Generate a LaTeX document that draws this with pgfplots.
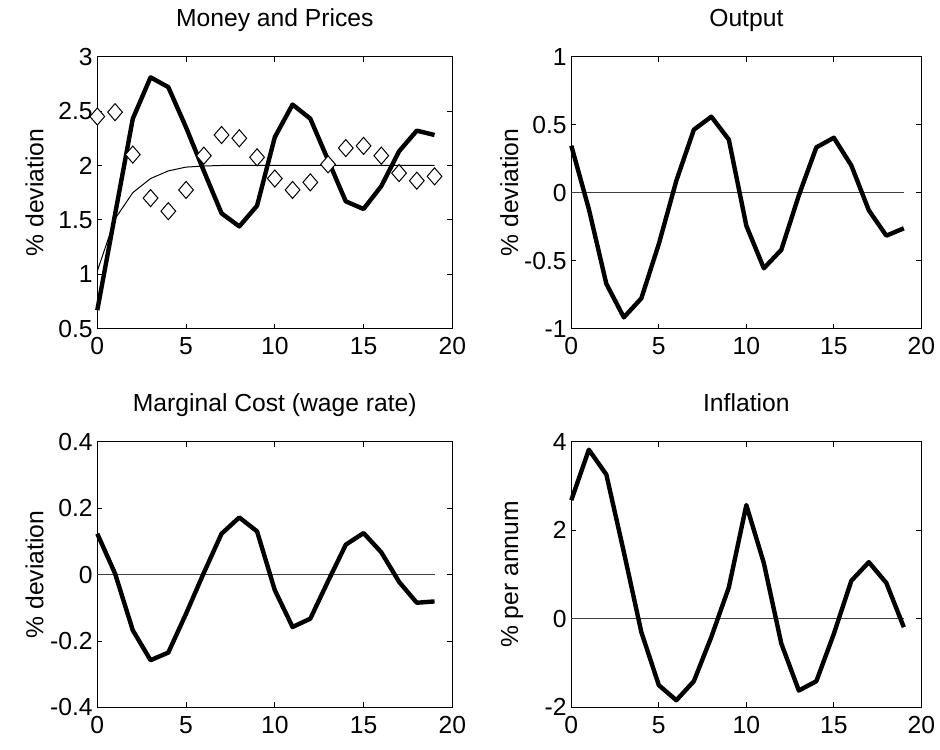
\documentclass[border=0pt]{standalone}
\usepackage{fontspec}
\setmainfont{Liberation Sans}
\usepackage{pgfplots}
\pgfplotsset{compat=1.18}
\pgfplotsset{
  panel/.style={
    scale only axis,
    xmin=0, xmax=20,
    xtick={0,5,...,20},
    tick align=inside,
    major tick length=3.75pt,
    tick style={black, line width=0.6pt},
    axis line style={black, line width=0.9pt},
    /pgf/number format/assume math mode=true,
    ticklabel style={font=\fontsize{18.5pt}{21pt}\selectfont},
    xticklabel style={yshift=-3pt},
    title style={font=\fontsize{18.5pt}{21pt}\selectfont, at={(axis description cs:0.5,1)}, anchor=base, yshift=16.5pt},
    every axis y label/.style={font=\fontsize{18.5pt}{21pt}\selectfont, at={(axis description cs:-0.152,0.5)}, rotate=90, anchor=base},
    clip=false,
  },
  thick line/.style={black, line width=3.3pt, line join=round, mark=none},
  thin line/.style={black, line width=0.75pt, mark=none},
  zero line/.style={black!75, line width=0.75pt, mark=none},
}
\begin{document}
\begin{tikzpicture}
\path (0pt,0pt) rectangle (705pt,-562.5pt);

% Money and Prices
\begin{axis}[panel, at={(72.98pt,-246.5pt)}, anchor=south west,
  width=266.25pt, height=204pt,
  ymin=0.5, ymax=3, ytick={0.5,1,...,3},
  title={Money and Prices}, ylabel={\% deviation}]
\addplot[thick line] coordinates {
(0,0.67) (1,1.55) (2,2.43) (3,2.81) (4,2.72) (5,2.35) (6,1.95) (7,1.56)
(8,1.44) (9,1.63) (10,2.26) (11,2.56) (12,2.43) (13,2.05) (14,1.67)
(15,1.60) (16,1.81) (17,2.13) (18,2.32) (19,2.28)};
\addplot[thin line] coordinates {
(0,1.03) (1,1.51) (2,1.75) (3,1.88) (4,1.95) (5,1.985) (6,1.995) (7,2.0)
(8,2.0) (9,2.0) (10,2.0) (11,2.0) (12,2.0) (13,2.0) (14,2.0) (15,2.0)
(16,2.0) (17,2.0) (18,2.0) (19,2.0)};
\addplot[only marks, mark=diamond*, mark size=6.4pt,
  mark options={fill=white, draw=black, line width=0.75pt, xscale=1.15}] coordinates {
(0,2.45) (1,2.49) (2,2.10) (3,1.70) (4,1.58) (5,1.775) (6,2.09) (7,2.28)
(8,2.25) (9,2.075) (10,1.88) (11,1.775) (12,1.845) (13,2.01) (14,2.16)
(15,2.18) (16,2.09) (17,1.93) (18,1.86) (19,1.90)};
\end{axis}

% Output
\begin{axis}[panel, at={(428.5pt,-246.5pt)}, anchor=south west,
  width=262.5pt, height=204pt,
  ymin=-1, ymax=1, ytick={-1,-0.5,...,1},
  title={Output}, ylabel={\% deviation}]
\addplot[zero line] coordinates {(0,0) (19,0)};
\addplot[thick line] coordinates {
(0,0.345) (1,-0.12) (2,-0.67) (3,-0.917) (4,-0.777) (5,-0.377) (6,0.088)
(7,0.463) (8,0.559) (9,0.39) (10,-0.243) (11,-0.556) (12,-0.42) (13,-0.02)
(14,0.333) (15,0.404) (16,0.20) (17,-0.13) (18,-0.316) (19,-0.262)};
\end{axis}

% Marginal Cost
\begin{axis}[panel, at={(72.98pt,-530.5pt)}, anchor=south west,
  width=266.25pt, height=199.2pt,
  ymin=-0.4, ymax=0.4, ytick={-0.4,-0.2,0,0.2,0.4},
  title={Marginal Cost (wage rate)}, ylabel={\% deviation}]
\addplot[zero line] coordinates {(0,0) (19,0)};
\addplot[thick line] coordinates {
(0,0.123) (1,0.003) (2,-0.168) (3,-0.258) (4,-0.235) (5,-0.118) (6,0.005)
(7,0.123) (8,0.172) (9,0.13) (10,-0.047) (11,-0.158) (12,-0.133) (13,-0.02)
(14,0.09) (15,0.125) (16,0.067) (17,-0.022) (18,-0.085) (19,-0.081)};
\end{axis}

% Inflation
\begin{axis}[panel, at={(428.5pt,-530.5pt)}, anchor=south west,
  width=262.5pt, height=199.2pt,
  ymin=-2, ymax=4, ytick={-2,0,2,4},
  title={Inflation}, ylabel={\% per annum}]
\addplot[zero line] coordinates {(0,0) (19,0)};
\addplot[thick line] coordinates {
(0,2.68) (1,3.82) (2,3.26) (3,1.51) (4,-0.30) (5,-1.50) (6,-1.84) (7,-1.41)
(8,-0.41) (9,0.71) (10,2.57) (11,1.26) (12,-0.56) (13,-1.62) (14,-1.41)
(15,-0.34) (16,0.86) (17,1.28) (18,0.81) (19,-0.19)};
\end{axis}
\end{tikzpicture}
\end{document}
